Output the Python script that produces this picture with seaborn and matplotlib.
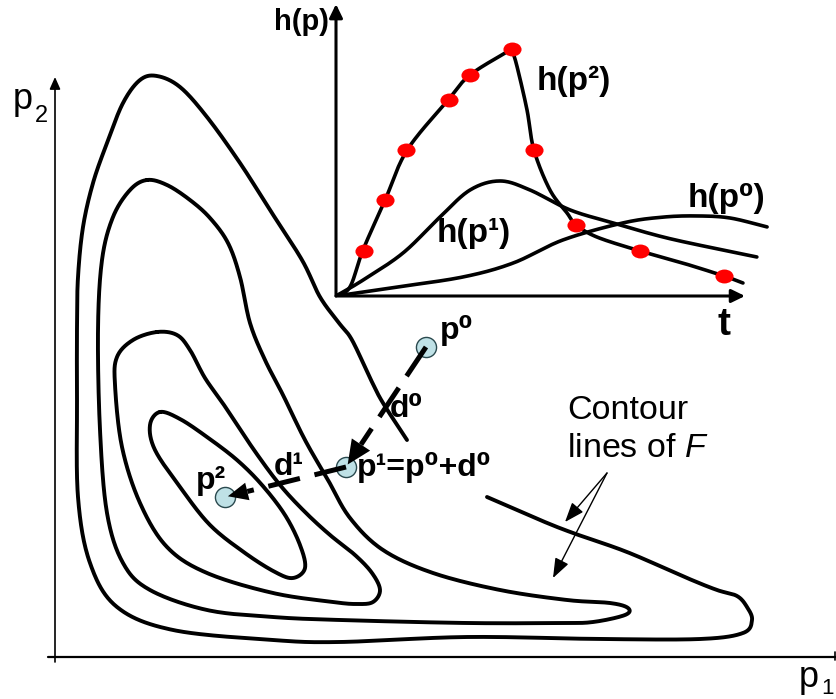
import numpy as np
import pandas as pd
import matplotlib
matplotlib.use("Agg")
import matplotlib.pyplot as plt
import seaborn as sns
from matplotlib.path import Path
from matplotlib.transforms import Affine2D

sns.set_theme(style="white")
plt.rcParams["font.family"] = ["Liberation Sans", "DejaVu Sans"]
plt.rcParams["text.color"] = "black"
plt.rcParams["mathtext.fontset"] = "custom"
plt.rcParams["mathtext.rm"] = "Liberation Sans"
plt.rcParams["mathtext.it"] = "Liberation Sans:italic"
FAM = ["Liberation Sans", "DejaVu Sans"]

# ---------------- data: main parameter plane (p1, p2) ----------------
# contour lines of F, C1 outermost (open: hidden behind label)
c1_p1 = [432, 485, 518, 572, 632, 662, 682, 692, 697, 688, 645, 545, 412, 285, 218, 118, 62, 35,
         23, 22, 22, 23, 28, 38, 52, 68, 85, 102, 125, 152, 185, 215, 247, 265, 284, 297, 316, 328, 352]
c1_p2 = [160, 137, 124, 105, 79, 67, 61, 50, 37, 24, 18, 18, 20, 15, 17, 27, 50, 94,
         160, 257, 330, 380, 430, 474, 514, 554, 577, 581, 570, 540, 494, 447, 397, 360, 334, 317, 277, 254, 217]

c2_p1 = [92, 112, 135, 155, 173, 185, 195, 210, 228, 250, 273, 295, 328, 378, 445, 512, 555, 573,
         570, 538, 505, 412, 285, 218, 152, 95, 68, 52, 45, 43, 47, 58, 75]
c2_p2 = [477, 472, 457, 439, 414, 380, 334, 297, 262, 217, 177, 139, 107, 84, 67, 57, 54, 49,
         42, 35, 34, 34, 37, 40, 47, 67, 94, 144, 227, 327, 397, 440, 467]

c3_p1 = [102, 122, 135, 150, 169, 199, 225, 250, 275, 300, 317, 325, 318, 302, 278, 218, 152, 112,
         85, 67, 60, 62, 78]
c3_p2 = [325, 322, 307, 279, 252, 207, 172, 145, 122, 102, 84, 67, 55, 53, 55, 64, 84, 110,
         154, 210, 272, 300, 317]

c4_p1 = [105, 125, 152, 182, 207, 230, 245, 250, 238, 220, 190, 155, 125, 100, 95]
c4_p2 = [245, 238, 220, 197, 172, 142, 112, 89, 79, 85, 104, 132, 170, 207, 232]

# iterates p0, p1, p2
iter_names = ["p0", "p1", "p2"]
iter_p1 = [371, 291, 170]
iter_p2 = [310, 190, 160]

# ---------------- data: inset h(p) over t ----------------
h2_rise_t = [0.0, 0.34, 0.66, 1.20, 1.74, 2.74, 3.28, 4.30]
h2_rise_h = [0.0, 0.31, 1.59, 3.32, 5.05, 6.78, 7.65, 8.55]
h2_fall_t = [4.30, 4.43, 4.67, 4.84, 5.23, 5.65, 5.87, 6.38, 7.43, 8.48, 9.49, 9.95]
h2_fall_h = [8.55, 7.92, 6.44, 5.05, 3.67, 2.87, 2.46, 2.04, 1.56, 1.14, 0.69, 0.45]

h1_t = [0.0, 0.66, 1.64, 2.54, 3.28, 4.01, 4.74, 5.72, 6.77, 8.00, 9.22, 10.29]
h1_h = [0.0, 0.55, 1.49, 2.73, 3.67, 3.98, 3.67, 2.98, 2.53, 2.04, 1.66, 1.35]

h0_t = [0.0, 1.49, 3.11, 4.33, 5.55, 7.02, 8.00, 8.83, 9.63, 10.54]
h0_h = [0.0, 0.31, 0.66, 1.14, 1.94, 2.53, 2.73, 2.77, 2.70, 2.39]

sample_t = [0.68, 1.20, 1.71, 2.76, 3.28, 4.30, 4.84, 5.87, 7.43, 9.49]
sample_h = [1.56, 3.32, 5.05, 6.78, 7.65, 8.55, 5.05, 2.46, 1.56, 0.69]


def smooth(xs, ys, closed=False, n=24):
    pts = np.column_stack([xs, ys]).astype(float)
    if closed:
        P = np.vstack([pts[-1], pts, pts[0], pts[1]])
    else:
        P = np.vstack([2 * pts[0] - pts[1], pts, 2 * pts[-1] - pts[-2]])
    out = []
    t = np.linspace(0, 1, n, endpoint=False)[:, None]
    for i in range(1, len(P) - 2):
        a, b, c, d = P[i - 1], P[i], P[i + 1], P[i + 2]
        seg = 0.5 * ((2 * b) + (-a + c) * t + (2 * a - 5 * b + 4 * c - d) * t ** 2
                     + (-a + 3 * b - 3 * c + d) * t ** 3)
        out.append(seg)
    out.append(P[-2][None])
    s = np.vstack(out)
    return s[:, 0], s[:, 1]


def curve(ax, xs, ys, closed=False, lw=2.8):
    sx, sy = smooth(xs, ys, closed)
    sns.lineplot(x=sx, y=sy, sort=False, estimator=None, color="black", lw=lw, ax=ax,
                 zorder=2)


fig = plt.figure(figsize=(8.37, 6.99), dpi=100)
ax = fig.add_axes([0, 0, 1, 1])
ax.set_xlim(-55, 782)
ax.set_ylim(-42, 657)
ax.axis("off")

# contours
curve(ax, c1_p1, c1_p2, closed=False)
curve(ax, c2_p1, c2_p2, closed=True)
curve(ax, c3_p1, c3_p2, closed=True)
curve(ax, c4_p1, c4_p2, closed=True)

# main axes
ax.annotate("", xy=(0, 580), xytext=(0, -5),
            arrowprops=dict(arrowstyle="-|>,head_length=0.45,head_width=0.2", lw=1.2,
                            color="black", mutation_scale=16, shrinkA=0, shrinkB=0))
ax.plot([-7, 782], [0, 0], color="black", lw=1.6)
ax.plot([780, 780], [-3, 5], color="black", lw=1.2)
ax.text(-42, 548, "p", fontsize=26, family=FAM, ha="left", va="baseline")
ax.text(-20, 535, "2", fontsize=17, family=FAM, ha="left", va="baseline")
ax.text(744, -30, "p", fontsize=26, family=FAM, ha="left", va="baseline")
ax.text(766, -37, "1", fontsize=16, family=FAM, ha="left", va="baseline")

# iterate points
df_it = pd.DataFrame({"p1": iter_p1, "p2": iter_p2, "name": iter_names})
sns.scatterplot(data=df_it, x="p1", y="p2", s=210, color="#bfe1e6", edgecolor="#2b4a4f",
                linewidth=1.0, ax=ax, zorder=4, legend=False)


def dashed_arrow(a, b, head_len, head_w, lw=3.6, dashes=(7, 2.8), tip_back=3):
    a = np.array(a, float)
    b = np.array(b, float)
    d = b - a
    u = d / np.hypot(*d)
    nrm = np.array([-u[1], u[0]])
    tip = b - u * tip_back
    base = tip - u * head_len
    ax.plot([a[0], base[0]], [a[1], base[1]], color="black", lw=lw, dashes=dashes,
            dash_capstyle="butt", solid_capstyle="butt", zorder=5)
    tri = np.array([tip, base + nrm * head_w, base - nrm * head_w])
    ax.fill(tri[:, 0], tri[:, 1], color="black", lw=0, zorder=5)


P = np.column_stack([iter_p1, iter_p2])
dashed_arrow(P[0], P[1], head_len=24, head_w=11)
dashed_arrow(P[1], P[2], head_len=20, head_w=9, dashes=(6.5, 3))

bold = dict(fontsize=23, fontweight="bold", family=FAM, ha="left", va="baseline", zorder=6)
ax.text(385, 318, "p⁰", **bold)
ax.text(335, 240, "d⁰", **bold)
ax.text(302, 181, "p¹=p⁰+d⁰", **bold)
ax.text(219, 182, "d¹", **bold)
ax.text(141, 168, "p²", **bold)

# contour annotation
ax.text(512, 238, "Contour", fontsize=24.5, family=FAM, ha="left", va="baseline")
ax.text(512, 200, r"lines of $\mathit{F}$", fontsize=24.5, family=FAM, ha="left",
        va="baseline")
for end in [(510, 135), (498, 79)]:
    ax.annotate("", xy=end, xytext=(552, 184),
                arrowprops=dict(arrowstyle="-|>,head_length=0.8,head_width=0.3", lw=1.0,
                                color="black", mutation_scale=15, shrinkA=0, shrinkB=0))

# ---------------- inset ----------------
ins = fig.add_axes([336 / 837, 1 - 296 / 699, 11.5 * 40.9 / 837, 10.3 * 28.9 / 699])
ins.set_xlim(0, 11.5)
ins.set_ylim(0, 10.3)
ins.axis("off")
ins.patch.set_alpha(0)

for tt, hh in [(h2_rise_t, h2_rise_h), (h2_fall_t, h2_fall_h), (h1_t, h1_h), (h0_t, h0_h)]:
    sx, sy = smooth(tt, hh)
    sns.lineplot(x=sx, y=sy, sort=False, estimator=None, color="black", lw=2.6, ax=ins)

ell = Path.unit_circle().transformed(Affine2D().scale(1.3, 1.0))
sns.scatterplot(x=sample_t, y=sample_h, marker=ell, s=170, color="#ff0000", linewidth=0,
                ax=ins, zorder=5, legend=False)

for xy in [(10.0, 0), (0, 10.1)]:
    ins.annotate("", xy=xy, xytext=(0, 0),
                 arrowprops=dict(arrowstyle="-|>,head_length=0.45,head_width=0.22", lw=2.2,
                                 color="black", mutation_scale=18, shrinkA=0, shrinkB=0),
                 annotation_clip=False)

ib = dict(fontsize=24, fontweight="bold", family=FAM, va="baseline")
ins.text(-0.18, 9.2, "h(p)", ha="right", fontsize=21, fontweight="bold", family=FAM,
         va="baseline")
ins.text(9.49, -1.35, "t", ha="center", fontsize=28, fontweight="bold", family=FAM,
         va="baseline")
ins.text(4.91, 7.13, "h(p²)", ha="left", **ib)
ins.text(2.47, 1.87, "h(p¹)", ha="left", **ib)
ins.text(8.60, 3.08, "h(p⁰)", ha="left", **ib)

fig.savefig("out.png", dpi=100)
